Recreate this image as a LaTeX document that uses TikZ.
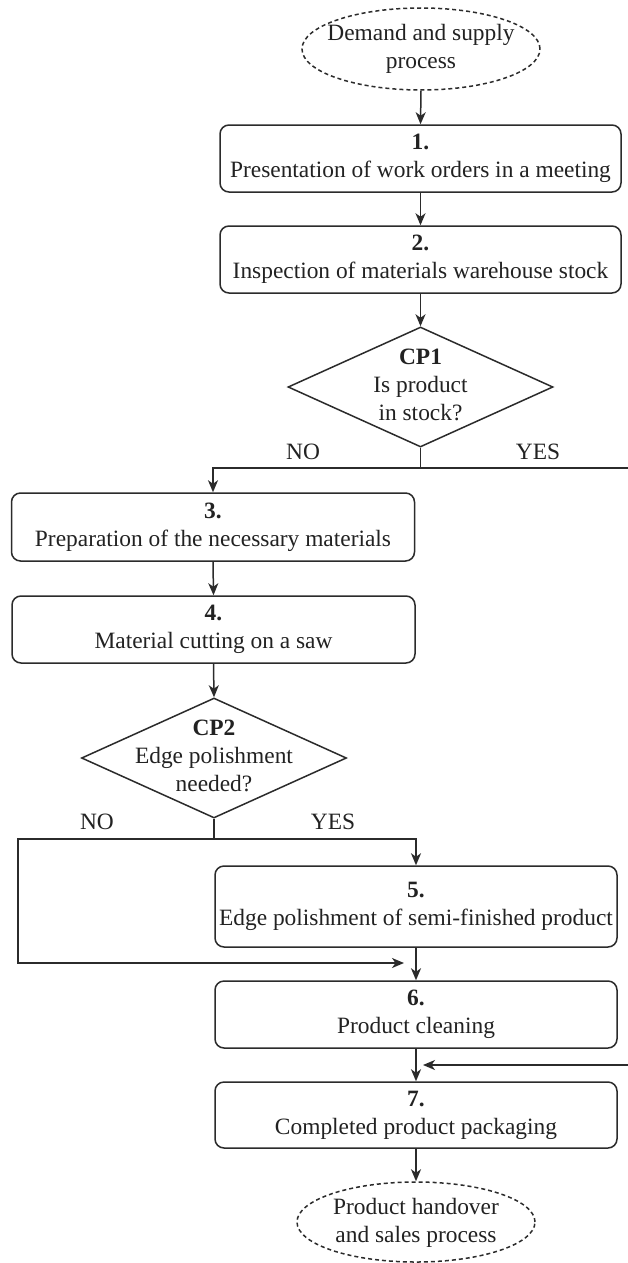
\documentclass[tikz,border=0pt]{standalone}
\usepackage{fontspec}
\setmainfont{Liberation Serif}
\usetikzlibrary{shapes.geometric,arrows.meta}
\definecolor{ink}{HTML}{222222}
\definecolor{edge}{HTML}{2b2b2b}
\begin{document}
\begin{tikzpicture}[x=1pt,y=-1pt,
  every node/.style={font=\fontsize{23.4}{28}\selectfont, text=ink},
  box/.style={draw=edge, line width=1.5pt, rounded corners=9pt, align=center,
    minimum width=401pt, minimum height=67pt, inner sep=2pt},
  terminal/.style={draw=edge, line width=1.5pt, dashed, dash pattern=on 4pt off 3pt,
    ellipse, minimum width=238pt, minimum height=82pt, inner sep=0pt},
  decision/.style={draw=edge, line width=1.5pt, diamond, minimum width=265pt,
    minimum height=120pt, inner sep=0pt},
  txt/.style={align=center, inner sep=0pt},
  lbl/.style={inner sep=0pt},
  flow/.style={draw=edge, line width=1.5pt, -{Stealth[length=12pt,width=10pt,inset=3.5pt]}},
  wire/.style={draw=edge, line width=1.5pt}]
\clip (0,0) rectangle (628,1263);
\fill[white] (0,0) rectangle (628,1263);

% start terminal
\node[terminal] (start) at (421,49) {};
\node[txt] (startt) at (421,49) {Demand and supply\\process};

% main steps
\node[box] (s1) at (420.5,158.5) {\textbf{1.}\\Presentation of work orders in a meeting};
\node[box] (s2) at (420.5,259.5) {\textbf{2.}\\Inspection of materials warehouse stock};

\node[decision] (cp1) at (420.5,387) {};
\node[txt] (cp1t) at (420.5,385) {\textbf{CP1}\\Is product\\in stock?};

\node[box, minimum width=403pt, minimum height=68pt] (s3) at (213,527) {\textbf{3.}\\Preparation of the necessary materials};
\node[box, minimum width=403pt] (s4) at (213.5,629.5) {\textbf{4.}\\Material cutting on a saw};

\node[decision] (cp2) at (214,758) {};
\node[txt] (cp2t) at (214,756) {\textbf{CP2}\\Edge polishment\\needed?};

\node[box, minimum width=402pt, minimum height=81pt] (s5) at (416,906.5) {\textbf{5.}\\Edge polishment of semi-finished product};
\node[box, minimum width=402pt] (s6) at (416,1014.5) {\textbf{6.}\\Product cleaning};
\node[box, minimum width=402pt, minimum height=66pt] (s7) at (416,1115) {\textbf{7.}\\Completed product packaging};

% end terminal
\node[terminal, minimum height=80pt] (stop) at (416,1222) {};
\node[txt] (stopt) at (416,1223) {Product handover\\and sales process};

% branch labels
\node[lbl] (no1) at (303,452) {NO};
\node[lbl] (yes1) at (538,452) {YES};
\node[lbl] (no2) at (97,822) {NO};
\node[lbl] (yes2) at (333,822) {YES};

% junction points
\coordinate (j1) at (420.5,468);
\coordinate (r1) at (640,468);
\coordinate (r2) at (640,1065);
\coordinate (m7) at (423,1065);
\coordinate (j2) at (214,839);
\coordinate (l1) at (18,839);
\coordinate (m6) at (404,963);

% connectors
\draw[flow] (start.south) -- (s1.north);
\draw[flow] (s1.south) -- (s2.north);
\draw[flow] (s2.south) -- (cp1.north);
\draw[wire] (cp1.south) -- (j1);
\draw[flow] (j1) -| (s3.north);
\draw[flow] (j1) -- (r1) -- (r2) -- (m7);
\draw[flow] (s3.south) -- (s4.north);
\draw[flow] (s4.south) -- (cp2.north);
\draw[wire] (cp2.south) -- (j2);
\draw[flow] (j2) -| (s5.north);
\draw[flow] (j2) -- (l1) |- (m6);
\draw[flow] (s5.south) -- (s6.north);
\draw[flow] (s6.south) -- (s7.north);
\draw[flow] (s7.south) -- (stop.north);
\end{tikzpicture}
\end{document}
